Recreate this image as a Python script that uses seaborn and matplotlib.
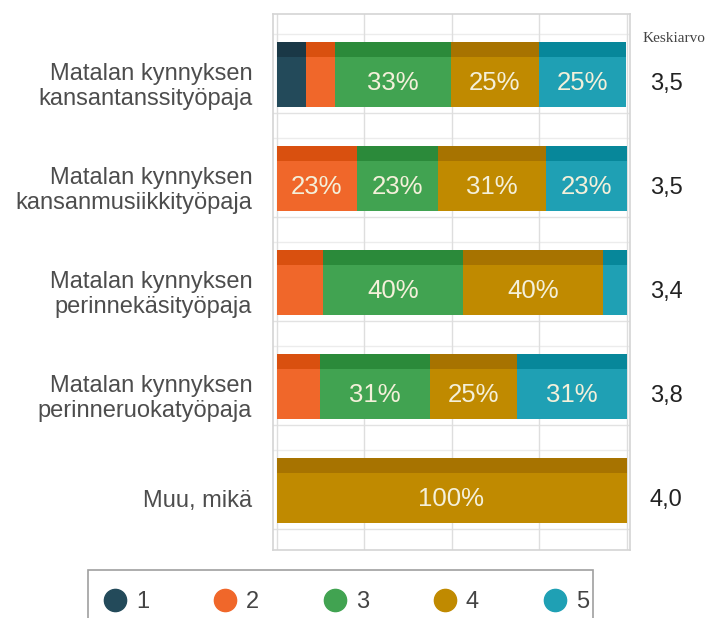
import numpy as np
import pandas as pd
import seaborn as sns
import matplotlib.pyplot as plt
from matplotlib.lines import Line2D
from matplotlib.patches import Rectangle

# Data (share of answers per rating, %)
categories = [
    "Matalan kynnyksen\nkansantanssityöpaja",
    "Matalan kynnyksen\nkansanmusiikkityöpaja",
    "Matalan kynnyksen\nperinnekäsityöpaja",
    "Matalan kynnyksen\nperinneruokatyöpaja",
    "Muu, mikä",
]
r1 = [8.3, 0, 0, 0, 0]
r2 = [8.3, 23.1, 13.3, 12.5, 0]
r3 = [33.3, 23.1, 40.0, 31.25, 0]
r4 = [25.0, 30.8, 40.0, 25.0, 100]
r5 = [25.0, 23.1, 6.7, 31.25, 0]
means = ["3,5", "3,5", "3,4", "3,8", "4,0"]
levels = ["1", "2", "3", "4", "5"]

df = pd.DataFrame({"kohde": categories, "1": r1, "2": r2, "3": r3, "4": r4, "5": r5})

front_colors = ["#234a5a", "#f0672a", "#41a351", "#c08a00", "#1fa0b4"]
top_colors = ["#1a3846", "#d9500f", "#2b8a3a", "#a77300", "#07879a"]

sns.set_style("white")
plt.rcParams['font.family'] = ['Liberation Sans', 'DejaVu Sans']

fig = plt.figure(figsize=(7.13, 6.18), dpi=100)
ax = fig.add_axes([273 / 713, 1 - 550 / 618, 357 / 713, 536 / 618])

bar_h = 0.48
depth = 0.14
rows = np.arange(len(categories))

left = np.zeros(len(categories))
for lev, fc, tc in zip(levels, front_colors, top_colors):
    vals = df[lev].to_numpy(dtype=float)
    # front face
    sns.barplot(x=vals, y=df["kohde"], orient="h", color=fc, saturation=1,
                width=bar_h, left=left.copy(), errorbar=None, ax=ax,
                linewidth=0, zorder=3)
    # top face (3D look)
    ax.barh(rows - bar_h / 2 - depth / 2, vals, height=depth, left=left,
            color=tc, linewidth=0, zorder=3)
    for i, v in enumerate(vals):
        if v >= 20:
            ax.text(left[i] + v / 2, rows[i] + 0.01, f"{round(v)}%",
                    ha="center", va="center", color="#f4f0da", fontsize=18.5,
                    zorder=4)
    left += vals

ax.set_xlim(-1, 101)
ax.set_ylim(4.5, -0.654)

# grid
ax.set_xticks([0, 25, 50, 75, 100])
ax.set_xticklabels([])
ax.tick_params(axis="x", length=0)
ax.grid(axis="x", color="#dedede", linewidth=1, zorder=0)
for r in rows:
    ax.axhline(r + bar_h / 2 + 0.06, color="#e2e2e2", linewidth=1, zorder=0)
    ax.axhline(r - bar_h / 2 - depth - 0.08, color="#ececec", linewidth=1, zorder=0)

ax.set_xlabel("")
ax.set_ylabel("")
ax.tick_params(axis="y", length=0, pad=15, labelsize=17, labelcolor="#4d4d4d")
for s in ax.spines.values():
    s.set_visible(True)
    s.set_color("#d4d4d4")
    s.set_linewidth(1.2)

# mean column
for i, m in enumerate(means):
    ax.text(1.056, rows[i] + 0.02, m, transform=ax.get_yaxis_transform(),
            ha="left", va="center", fontsize=17, color="#222222")
fig.text(643 / 713, 1 - 38 / 618, "Keskiarvo", family=["Liberation Serif"],
         fontsize=11, color="#444444", ha="left", va="center")

# legend (box drawn separately, it runs past the bottom edge)
fig.patches.append(Rectangle((88 / 713, 1 - 650 / 618), 505 / 713, 80 / 618,
                             transform=fig.transFigure, facecolor="white",
                             edgecolor="#a0a0a0", linewidth=1.2))
handles = [Line2D([], [], marker="o", linestyle="none", markersize=16,
                  markerfacecolor=c, markeredgecolor=c) for c in front_colors]
leg = fig.legend(handles, levels, ncol=5, loc="center left",
                 bbox_to_anchor=(103 / 713, 1 - 602 / 618),
                 frameon=False, handlelength=1.0, handletextpad=0.4,
                 columnspacing=2.7, borderaxespad=0, borderpad=0, fontsize=17)
for t in leg.get_texts():
    t.set_color("#444444")

plt.savefig("out.png", dpi=100)
